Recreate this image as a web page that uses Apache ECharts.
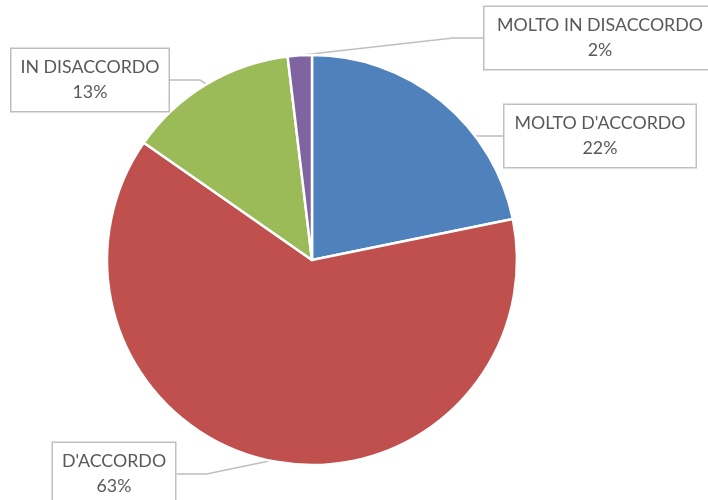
<!DOCTYPE html>
<html>
<head>
<meta charset="utf-8">
<script src="https://cdn.jsdelivr.net/npm/echarts@6/dist/echarts.min.js"></script>
<style>
  html, body { margin: 0; padding: 0; background: #fff; }
  #chart { width: 708px; height: 500px; }
</style>
</head>
<body>
<div id="chart"></div>
<script>
// categorie e valori
var categories = ['MOLTO D\'ACCORDO', 'D\'ACCORDO', 'IN DISACCORDO', 'MOLTO IN DISACCORDO'];
var values = [21.8, 62.9, 13.4, 1.9];
var colors = ['#4F81BD', '#C0504D', '#9BBB59', '#8064A2'];

// posizione dei riquadri etichetta (centro) e larghezza
var labelBoxes = [
    { x: 600, y: 136, w: 175 },
    { x: 114, y: 474, w: 106 },
    { x: 90, y: 80, w: 141 },
    { x: 600, y: 38, w: 215 }
];

var chart = echarts.init(document.getElementById('chart'));

var option = {
    backgroundColor: '#fff',
    animation: false,
    series: [{
        type: 'pie',
        center: [312, 260],
        radius: 205,
        startAngle: 90,
        clockwise: true,
        avoidLabelOverlap: false,
        itemStyle: { borderColor: '#fff', borderWidth: 2.5 },
        label: {
            show: true,
            formatter: function (p) { return p.name + '\n' + Math.round(p.percent) + '%'; },
            color: '#595959',
            fontFamily: 'Lato',
            fontSize: 17.8,
            lineHeight: 25,
            align: 'center',
            overflow: 'none',
            backgroundColor: '#fff',
            borderColor: '#bfbfbf',
            borderWidth: 1.5,
            padding: [9, 8, 3, 8]
        },
        labelLine: {
            show: true,
            lineStyle: { color: '#bfbfbf', width: 1.5 }
        },
        labelLayout: function (params) {
            var b = labelBoxes[params.dataIndex];
            return { x: b.x, y: b.y, align: 'center', verticalAlign: 'middle', width: b.w };
        },
        data: categories.map(function (c, i) {
            return { name: c, value: values[i], itemStyle: { color: colors[i] } };
        })
    }]
};

chart.setOption(option);
</script>
</body>
</html>
